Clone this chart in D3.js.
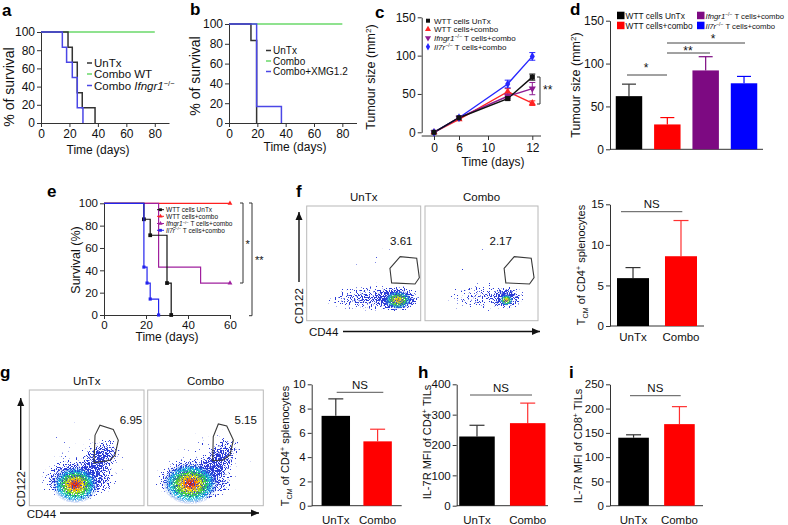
<!DOCTYPE html>
<html><head><meta charset="utf-8">
<script src="https://cdn.jsdelivr.net/npm/d3@7"></script>
<style>body{margin:0;background:#fff}</style>
</head><body>
<svg id="chart" width="788" height="525" xmlns="http://www.w3.org/2000/svg"></svg>
<script>
// ---------------- DATA ----------------
// a: survival (Kaplan-Meier steps)
const aUnTxT=[0,19,22,25.5,29,38], aUnTxS=[100,83.3,66.7,33.3,16.7,0];
const aWtT=[0,80], aWtS=[100,100];
const aKoT=[0,15,18,22,25.5,29.5], aKoS=[100,83.3,66.7,50,16.7,0];
// b
const bUnTxT=[0,15.5,19.5], bUnTxS=[100,83.3,0];
const bComboT=[0,80], bComboS=[100,100];
const bXmgT=[0,19.5,37], bXmgS=[100,16.7,0];
const survXTicks=[0,20,40,60,80], survYTicks=[0,20,40,60,80,100];
// c: tumour growth
const cDays=[0,6,10,12];
const cUnTx=[0,19,44,72], cUnTxErr=[0,1,2,4];
const cCombo=[0,17,53,38], cComboErr=[0,1,4,3];
const cIfngr=[0,19,47,57], cIfngrErr=[0,1,3,8];
const cIl7r=[0,19,63,99], cIl7rErr=[0,1,5,5];
const cYTicks=[0,50,100,150];
// d: tumour size bars
const dGroups=["WTT cells UnTx","WTT cells+combo","Ifngr1 T cells+combo","Il7r T cells+combo"];
const dValues=[62,29,92,77], dErr=[14,8,16,8];
// e: survival
const eUnTxT=[0,19,22,30,32], eUnTxS=[100,85.7,71.4,28.6,0];
const eComboT=[0,60], eComboS=[100,100];
const eIfngrT=[0,26,46,60], eIfngrS=[100,42.9,28.6,28.6];
const eIl7rT=[0,19,20.5,22,26], eIl7rS=[100,42.9,28.6,14.3,0];
const eXTicks=[0,20,40,60], eYTicks=[0,20,40,60,80,100];
// bar panels f, g, h, i
const barCats=["UnTx","Combo"];
const fVals=[5.9,8.6], fErr=[1.3,4.4], fTicks=[0,5,10,15];
const gVals=[7.4,5.3], gErr=[1.4,1.0], gTicks=[0,2,4,6,8,10];
const hVals=[228,272], hErr=[37,66], hTicks=[0,100,200,300,400];
const iVals=[140,168], iErr=[6,36], iTicks=[0,50,100,150,200,250];
// flow cytometry: density clusters [cx, cy, rx, ry, density, angle] in 0-1 plot units
const fUnTxHalo=[[0.55,0.19,0.5,0.14,0.75,0],[0.8,0.19,0.22,0.13,0.95,0],[0.6,0.45,0.45,0.3,0.2,0]];
const fUnTxCore=[[0.8,0.18,0.12,0.08]];
const fComboHalo=[[0.55,0.2,0.5,0.15,0.6,0],[0.72,0.2,0.15,0.1,0.85,0],[0.6,0.45,0.45,0.3,0.15,0]];
const fComboCore=[[0.72,0.18,0.06,0.05]];
const gUnTxHalo=[[0.42,0.22,0.38,0.2,0.95,0],[0.63,0.42,0.22,0.14,0.8,-45],[0.5,0.4,0.5,0.42,0.35,0]];
const gUnTxCore=[[0.4,0.18,0.2,0.16]];
const gComboHalo=[[0.4,0.22,0.42,0.21,0.95,0],[0.63,0.42,0.22,0.14,0.8,-45],[0.5,0.4,0.5,0.42,0.35,0]];
const gComboCore=[[0.37,0.19,0.24,0.18]];
const fUnTxGate=[[0.73,0.457],[0.82,0.558],[0.965,0.544],[0.988,0.375],[0.95,0.32],[0.745,0.33]];
const fComboGate=[[0.7,0.457],[0.79,0.558],[0.94,0.544],[0.965,0.375],[0.925,0.32],[0.715,0.33]];
const gUnTxGate=[[0.573,0.61],[0.616,0.695],[0.732,0.658],[0.776,0.566],[0.747,0.436],[0.703,0.393],[0.564,0.37]];
const gComboGate=[[0.567,0.596],[0.611,0.706],[0.684,0.689],[0.741,0.568],[0.712,0.438],[0.654,0.395],[0.562,0.389]];
const flowPct=["3.61","2.17","6.95","5.15"];

// ---------------- HELPERS ----------------
const F='"Liberation Sans", Arial, Helvetica, sans-serif';
const svg=d3.select('#chart');
const defs=svg.append('defs');

function rich(t,parts,size){
  let shift=0;
  parts.forEach(p=>{
    const ts=t.append('tspan').text(p.t);
    const target=p.sup?-size*0.34:(p.sub?size*0.25:0);
    if(target!==shift){ts.attr('dy',target-shift);shift=target;}
    if(p.sup||p.sub) ts.attr('font-size',size*0.65);
    if(p.it) ts.attr('font-style','italic');
  });
}
function txt(x,y,s,o={}){
  const size=o.size||11;
  const t=svg.append('text').attr('x',x).attr('y',y).attr('font-family',F).attr('font-size',size).attr('fill',o.fill||'#111');
  if(o.anchor) t.attr('text-anchor',o.anchor);
  if(o.weight) t.attr('font-weight',o.weight);
  if(o.rot) t.attr('transform',`rotate(-90,${x},${y})`);
  if(Array.isArray(s)) rich(t,s,size); else t.text(s);
  return t;
}
function styleAxis(a,fs){
  a.attr('font-family',F).attr('font-size',fs);
  a.select('.domain').attr('stroke','#333').attr('stroke-width',1);
  a.selectAll('.tick line').attr('stroke','#333');
  a.selectAll('.tick text').attr('fill','#111');
}
function panelLetter(l,x,y){txt(x,y,l,{size:17,weight:'bold',fill:'#000'});}

// ---------------- KM panels ----------------
function km(cfg){
  const x=d3.scaleLinear().domain(cfg.xd).range(cfg.xr);
  const y=d3.scaleLinear().domain([0,100]).range(cfg.yr);
  const xa=svg.append('g').attr('transform',`translate(0,${cfg.yr[0]})`)
    .call(d3.axisBottom(x).tickValues(cfg.xt).tickSize(4).tickSizeOuter(0).tickPadding(2));
  const ya=svg.append('g').attr('transform',`translate(${cfg.xr[0]},0)`)
    .call(d3.axisLeft(y).tickValues(cfg.yt).tickSize(4).tickSizeOuter(0).tickPadding(2));
  styleAxis(xa,cfg.fs);styleAxis(ya,cfg.fs);
  const line=d3.line().x(d=>x(d[0])).y(d=>y(d[1])).curve(d3.curveStepAfter);
  cfg.series.forEach(s=>{
    const pts=s.t.map((t,i)=>[t,s.s[i]]);
    svg.append('path').attr('d',line(pts)).attr('fill','none').attr('stroke',s.c).attr('stroke-width',s.w||1.5);
    if(s.m){
      const sym=d3.symbol().type(s.m).size(s.ms||14);
      (s.mi||pts.slice(1)).forEach(p=>{
        svg.append('path').attr('d',sym()).attr('transform',`translate(${x(p[0])},${y(p[1])})`).attr('fill',s.c);
      });
    }
  });
  return {x,y};
}

// a
panelLetter('a',2,16);
km({xd:[0,90],xr:[41,169],yr:[123,32],xt:survXTicks,yt:survYTicks,fs:12,
  series:[{t:aWtT,s:aWtS,c:'#6ad86a'},{t:aUnTxT,s:aUnTxS,c:'#333'},{t:aKoT,s:aKoS,c:'#4b47e6'}]});
txt(98,154,'Time (days)',{size:12,anchor:'middle'});
txt(14,87,'% of survival',{size:14,anchor:'middle',rot:true});
[['#333',[{t:'UnTx'}]],['#6ad86a',[{t:'Combo WT'}]],['#4b47e6',[{t:'Combo '},{t:'Ifngr1',it:true},{t:'−/−',sup:true}]]]
 .forEach((d,i)=>{const yy=[63,74,85.5][i];
   svg.append('line').attr('x1',87).attr('x2',92).attr('y1',yy).attr('y2',yy).attr('stroke',d[0]).attr('stroke-width',1.5);
   txt(94,yy+4,d[1],{size:11.5});});

// b
panelLetter('b',190,15);
km({xd:[0,90],xr:[229,356.5],yr:[123,24],xt:survXTicks,yt:survYTicks,fs:12,
  series:[{t:bComboT,s:bComboS,c:'#6ad86a'},{t:bUnTxT,s:bUnTxS,c:'#333'},{t:bXmgT,s:bXmgS,c:'#4b47e6'}]});
txt(295,151,'Time (days)',{size:12,anchor:'middle'});
txt(200,76,'% of survival',{size:14,anchor:'middle',rot:true});
[['#333','UnTx'],['#6ad86a','Combo'],['#4b47e6','Combo+XMG1.2']]
 .forEach((d,i)=>{const yy=[50.5,61,71.5][i];
   svg.append('line').attr('x1',266).attr('x2',271).attr('y1',yy).attr('y2',yy).attr('stroke',d[0]).attr('stroke-width',1.5);
   txt(273,yy+3.5,d[1],{size:10});});

// ---------------- c ----------------
panelLetter('c',375,18);
{
  const x=d3.scaleLinear().domain(cDays).range([434,459,507.7,532.3]);
  const xTick=d3.scaleLinear().domain(cDays).range([434,459,488,532.3]);
  const y=d3.scaleLinear().domain([0,150]).range([132.3,17.3]);
  const ya=svg.append('g').attr('transform','translate(421.7,0)').call(d3.axisLeft(y).tickValues(cYTicks).tickSize(4).tickSizeOuter(0).tickPadding(2));
  styleAxis(ya,12);
  svg.append('line').attr('x1',421.7).attr('x2',541).attr('y1',136).attr('y2',136).attr('stroke','#333');
  const xa=svg.append('g').attr('transform','translate(0,136)').call(d3.axisBottom(xTick).tickValues(cDays).tickSize(4).tickSizeOuter(0).tickPadding(3));
  styleAxis(xa,12); xa.select('.domain').remove();
  const ser=[
    {v:cUnTx,e:cUnTxErr,c:'#111',m:d3.symbolSquare,ms:26},
    {v:cCombo,e:cComboErr,c:'#ff2424',m:d3.symbolTriangle,ms:22},
    {v:cIfngr,e:cIfngrErr,c:'#8e1c92',m:d3.symbolTriangle,ms:22,flip:true},
    {v:cIl7r,e:cIl7rErr,c:'#2727ff',m:d3.symbolDiamond,ms:22}];
  const line=d3.line().x((d,i)=>x(cDays[i])).y(d=>y(d));
  [1,2,3,0].forEach(k=>{const s=ser[k];
    svg.append('path').attr('d',line(s.v)).attr('fill','none').attr('stroke',s.c).attr('stroke-width',1.4);});
  [1,2,3,0].forEach(k=>{const s=ser[k];
    s.v.forEach((v,i)=>{
      if(s.e[i]>1){const xx=x(cDays[i]);
        svg.append('line').attr('x1',xx).attr('x2',xx).attr('y1',y(v-s.e[i])).attr('y2',y(v+s.e[i])).attr('stroke',s.c);
        [v-s.e[i],v+s.e[i]].forEach(w=>svg.append('line').attr('x1',xx-3).attr('x2',xx+3).attr('y1',y(w)).attr('y2',y(w)).attr('stroke',s.c));}
      svg.append('path').attr('d',d3.symbol().type(s.m).size(s.ms)()).attr('fill',s.c)
        .attr('transform',`translate(${x(cDays[i])},${y(v)})${s.flip?' rotate(180)':''}`);
    });});
  svg.append('path').attr('d','M537,77H540V104H537').attr('fill','none').attr('stroke','#333');
  txt(543,94,'**',{size:12});
  txt(493,166,'Time (days)',{size:12,anchor:'middle'});
  txt(375,77,[{t:'Tumour size (mm'},{t:'2',sup:true},{t:')'}],{size:12.5,anchor:'middle',rot:true});
  const leg=[['WTT cells UnTx',0],['WTT cells+combo',1],[[{t:'Ifngr1',it:true},{t:'−/−',sup:true},{t:' T cells+combo'}],2],[[{t:'Il7r',it:true},{t:'−/−',sup:true},{t:' T cells+combo'}],3]];
  leg.forEach((d,i)=>{const yy=[20.7,29.3,38,46.7][i];const s=ser[d[1]];
    svg.append('path').attr('d',d3.symbol().type(s.m).size(16)()).attr('fill',s.c).attr('transform',`translate(428,${yy})${s.flip?' rotate(180)':''}`);
    txt(434,yy+2.8,d[0],{size:8});});
}

// ---------------- d ----------------
panelLetter('d',570,15);
{
  const cols=['#000000','#ff0000','#7d0a82','#0000ff'];
  const x=d3.scaleBand().domain(dGroups).range([610,763]).paddingInner(0.31).paddingOuter(0.15);
  const y=d3.scaleLinear().domain([0,150]).range([149.3,20.7]);
  const ya=svg.append('g').attr('transform','translate(610,0)').call(d3.axisLeft(y).tickValues(cYTicks).tickSize(4).tickSizeOuter(0).tickPadding(2));
  styleAxis(ya,12);
  svg.append('line').attr('x1',610).attr('x2',763).attr('y1',149.3).attr('y2',149.3).attr('stroke','#333');
  dGroups.forEach((g,i)=>{
    const cx=x(g)+x.bandwidth()/2;
    const ec=cols[i]==='#000000'?'#333':cols[i];
    svg.append('line').attr('x1',cx).attr('x2',cx).attr('y1',y(dValues[i])).attr('y2',y(dValues[i]+dErr[i])).attr('stroke',ec).attr('stroke-width',1.2);
    svg.append('line').attr('x1',cx-7).attr('x2',cx+7).attr('y1',y(dValues[i]+dErr[i])).attr('y2',y(dValues[i]+dErr[i])).attr('stroke',ec).attr('stroke-width',1.2);
    svg.append('rect').attr('x',x(g)).attr('width',x.bandwidth()).attr('y',y(dValues[i])).attr('height',y(0)-y(dValues[i])).attr('fill',cols[i]);
  });
  [[627,667,75,646,72,'*'],[667,710,53,688,55,'**'],[667,745,43,713,43,'*']].forEach(s=>{
    svg.append('line').attr('x1',s[0]).attr('x2',s[1]).attr('y1',s[2]).attr('y2',s[2]).attr('stroke','#444');
    txt(s[3],s[4],s[5],{size:12,anchor:'middle'});});
  txt(580,85,[{t:'Tumour size (mm'},{t:'2',sup:true},{t:')'}],{size:12.5,anchor:'middle',rot:true});
  const leg=[[617,15.5,0,'WTT cells UnTx',8.4],[617,25.5,1,'WTT cells+combo',8.4],[697,15.5,2,[{t:'Ifngr1',it:true},{t:'−/−',sup:true},{t:' T cells+combo'}],7.7],[697,25.5,3,[{t:'Il7r',it:true},{t:'−/−',sup:true},{t:' T cells+combo'}],7.7]];
  leg.forEach(l=>{svg.append('rect').attr('x',l[0]).attr('y',l[1]-3.8).attr('width',7.5).attr('height',7.5).attr('fill',cols[l[2]]);
    txt(l[0]+8.5,l[1]+3,l[3],{size:l[4]});});
}

// ---------------- e ----------------
panelLetter('e',47,197);
{
  const cE={un:'#111',co:'#ff2020',if:'#a0209e',il:'#2424ee'};
  km({xd:[0,60],xr:[104,230],yr:[315,203.3],xt:eXTicks,yt:eYTicks,fs:11.5,
   series:[
    {t:eComboT,s:eComboS,c:cE.co,w:1.2,m:d3.symbolTriangle,ms:10},
    {t:eIfngrT,s:eIfngrS,c:cE.if,w:1.2,m:d3.symbolTriangle,ms:10,mi:[[60,28.6]]},
    {t:eUnTxT,s:eUnTxS,c:cE.un,w:1.2,m:d3.symbolSquare,ms:14},
    {t:eIl7rT,s:eIl7rS,c:cE.il,w:1.2,m:d3.symbolSquare,ms:10}]});
  txt(167,341,'Time (days)',{size:12,anchor:'middle'});
  txt(80,260,'Survival (%)',{size:12.5,anchor:'middle',rot:true});
  svg.append('path').attr('d','M240,203H243V283H240').attr('fill','none').attr('stroke','#333');
  svg.append('path').attr('d','M249,203H252V315.7H249').attr('fill','none').attr('stroke','#333');
  txt(245.5,248,'*',{size:11});
  txt(255,264,'**',{size:11});
  const leg=[[cE.un,d3.symbolSquare,'WTT cells UnTx'],[cE.co,d3.symbolTriangle,'WTT cells+combo'],[cE.if,d3.symbolTriangle,[{t:'Ifngr1',it:true},{t:'−/−',sup:true},{t:' T cells+combo'}]],[cE.il,d3.symbolSquare,[{t:'Il7r',it:true},{t:'−/−',sup:true},{t:' T cells+combo'}]]];
  leg.forEach((l,i)=>{const yy=[209.7,216.3,223.5,230.3][i];
    svg.append('line').attr('x1',157).attr('x2',164).attr('y1',yy).attr('y2',yy).attr('stroke',l[0]);
    svg.append('path').attr('d',d3.symbol().type(l[1]).size(8)()).attr('fill',l[0]).attr('transform',`translate(160.5,${yy})`);
    txt(166,yy+2.3,l[2],{size:6.5});});
}

// ---------------- flow plots ----------------
{
  const hg=defs.append('radialGradient').attr('id','haloGrad');
  hg.append('stop').attr('offset','0%').attr('stop-color','#000').attr('stop-opacity',1);
  hg.append('stop').attr('offset','60%').attr('stop-color','#000').attr('stop-opacity',0.6);
  hg.append('stop').attr('offset','100%').attr('stop-color','#000').attr('stop-opacity',0);
  const cgG=defs.append('radialGradient').attr('id','coreG');
  [['0%','#d80000',1],['18%','#ff6600',1],['34%','#f4e000',1],['52%','#3ccf3c',1],['72%','#10c0e0',0.9],['100%','#2a40e0',0]]
    .forEach(s=>cgG.append('stop').attr('offset',s[0]).attr('stop-color',s[1]).attr('stop-opacity',s[2]));
  const cgF=defs.append('radialGradient').attr('id','coreF');
  [['0%','#f0a000',1],['25%','#d8e020',1],['50%','#40c840',1],['75%','#20b8d8',0.8],['100%','#2a40e0',0]]
    .forEach(s=>cgF.append('stop').attr('offset',s[0]).attr('stop-color',s[1]).attr('stop-opacity',s[2]));
  const f1=defs.append('filter').attr('id','spkBlue').attr('x','-10%').attr('y','-10%').attr('width','120%').attr('height','120%').attr('color-interpolation-filters','sRGB');
  f1.append('feTurbulence').attr('type','fractalNoise').attr('baseFrequency',0.85).attr('numOctaves',1).attr('seed',4).attr('result','n');
  f1.append('feColorMatrix').attr('in','n').attr('type','matrix').attr('values','0 0 0 0 0 0 0 0 0 0 0 0 0 0 0 1 0 0 0 0').attr('result','na');
  f1.append('feComposite').attr('in','SourceAlpha').attr('in2','na').attr('operator','arithmetic').attr('k1',0).attr('k2',0.51).attr('k3',1).attr('k4',-0.83).attr('result','s');
  f1.append('feComponentTransfer').attr('in','s').attr('result','m').append('feFuncA').attr('type','linear').attr('slope',25).attr('intercept',-0.2);
  f1.append('feFlood').attr('flood-color','#2b3bd6').attr('result','c');
  f1.append('feComposite').attr('in','c').attr('in2','m').attr('operator','in');
  const f2=defs.append('filter').attr('id','spkCol').attr('x','-10%').attr('y','-10%').attr('width','120%').attr('height','120%').attr('color-interpolation-filters','sRGB');
  f2.append('feTurbulence').attr('type','fractalNoise').attr('baseFrequency',0.9).attr('numOctaves',1).attr('seed',9).attr('result','n');
  f2.append('feColorMatrix').attr('in','n').attr('type','matrix').attr('values','0 0 0 0 0 0 0 0 0 0 0 0 0 0 0 1 0 0 0 0').attr('result','na');
  f2.append('feComponentTransfer').attr('in','na').attr('result','m').append('feFuncA').attr('type','linear').attr('slope',7).attr('intercept',-2.6);
  f2.append('feComposite').attr('in','SourceGraphic').attr('in2','m').attr('operator','in');
}
let clipN=0;
function flow(box,halo,core,coreId,gate,pct,title,pctPos){
  const [x0,y0,x1,y1]=box;
  const x=d3.scaleLinear().domain([0,1]).range([x0,x1]);
  const y=d3.scaleLinear().domain([0,1]).range([y1,y0]);
  const id='fc'+(++clipN);
  defs.append('clipPath').attr('id',id).append('rect').attr('x',x0).attr('y',y0).attr('width',x1-x0).attr('height',y1-y0);
  const g=svg.append('g').attr('clip-path',`url(#${id})`);
  const hgp=g.append('g').attr('filter','url(#spkBlue)');
  halo.forEach(h=>hgp.append('ellipse').attr('cx',x(h[0])).attr('cy',y(h[1])).attr('rx',x(h[2])-x(0)).attr('ry',y(0)-y(h[3]))
     .attr('fill','url(#haloGrad)').attr('fill-opacity',h[4]).attr('transform',`rotate(${h[5]},${x(h[0])},${y(h[1])})`));
  const cg=g.append('g').attr('filter','url(#spkCol)');
  core.forEach(c=>cg.append('ellipse').attr('cx',x(c[0])).attr('cy',y(c[1])).attr('rx',x(c[2])-x(0)).attr('ry',y(0)-y(c[3])).attr('fill',`url(#${coreId})`));
  g.append('path').attr('d',d3.line().x(d=>x(d[0])).y(d=>y(d[1])).curve(d3.curveLinearClosed)(gate)).attr('fill','none').attr('stroke','#3a3a3a').attr('stroke-width',1.1);
  svg.append('rect').attr('x',x0).attr('y',y0).attr('width',x1-x0).attr('height',y1-y0).attr('fill','none').attr('stroke','#b8b8b8');
  txt(x(pctPos[0]),y(pctPos[1]),pct,{size:11.5,anchor:'middle'});
  txt((x0+x1)/2,y0-5,title,{size:11.5,anchor:'middle'});
}
panelLetter('f',296,197);
flow([306.7,206,420.7,320.7],fUnTxHalo,fUnTxCore,'coreF',fUnTxGate,flowPct[0],'UnTx',[0.83,0.66]);
flow([425,206,538,320.7],fComboHalo,fComboCore,'coreF',fComboGate,flowPct[1],'Combo',[0.67,0.66]);
panelLetter('g',0,378);
flow([29.3,390,144,505.7],gUnTxHalo,gUnTxCore,'coreG',gUnTxGate,flowPct[2],'UnTx',[0.887,0.71]);
flow([147.7,390,263.3,505.7],gComboHalo,gComboCore,'coreG',gComboGate,flowPct[3],'Combo',[0.848,0.71]);
function arrow(x1,y1,x2,y2){
  svg.append('line').attr('x1',x1).attr('y1',y1).attr('x2',x2).attr('y2',y2).attr('stroke','#111').attr('stroke-width',1.4);
  const a=Math.atan2(y2-y1,x2-x1),L=8,W=3.5;
  const p=[[x2,y2],[x2-L*Math.cos(a)+W*Math.sin(a),y2-L*Math.sin(a)-W*Math.cos(a)],[x2-L*Math.cos(a)-W*Math.sin(a),y2-L*Math.sin(a)+W*Math.cos(a)]];
  svg.append('path').attr('d','M'+p.join('L')+'Z').attr('fill','#111');
}
arrow(299,282,299,212); txt(303,306,'CD122',{size:11.5,anchor:'middle',rot:true});
txt(309,335.5,'CD44',{size:11.5}); arrow(343,331.5,540,331.5);
arrow(20.7,470,20.7,398); txt(25,489,'CD122',{size:11.5,anchor:'middle',rot:true});
txt(26.7,517.5,'CD44',{size:11.5}); arrow(60,513,259,513);

// ---------------- bar panels ----------------
function bars(cfg){
  const x=d3.scaleBand().domain(barCats).range([cfg.x0,cfg.x1]).paddingInner(cfg.pi).paddingOuter(cfg.po);
  const y=d3.scaleLinear().domain([0,cfg.ticks[cfg.ticks.length-1]]).range([cfg.yb,cfg.yt]);
  const ya=svg.append('g').attr('transform',`translate(${cfg.x0},0)`).call(d3.axisLeft(y).tickValues(cfg.ticks).tickSize(4).tickSizeOuter(0).tickPadding(2));
  styleAxis(ya,11.5);
  svg.append('line').attr('x1',cfg.x0).attr('x2',cfg.x1).attr('y1',cfg.yb).attr('y2',cfg.yb).attr('stroke','#333');
  const cols=['#000','#ff0000'], ecol=['#333','#ff3030'];
  barCats.forEach((c,i)=>{
    const cx=x(c)+x.bandwidth()/2, top=y(cfg.v[i]+cfg.e[i]);
    svg.append('line').attr('x1',cx).attr('x2',cx).attr('y1',y(cfg.v[i])).attr('y2',top).attr('stroke',ecol[i]).attr('stroke-width',1.2);
    svg.append('line').attr('x1',cx-7.5).attr('x2',cx+7.5).attr('y1',top).attr('y2',top).attr('stroke',ecol[i]).attr('stroke-width',1.2);
    svg.append('rect').attr('x',x(c)).attr('width',x.bandwidth()).attr('y',y(cfg.v[i])).attr('height',cfg.yb-y(cfg.v[i])).attr('fill',cols[i]);
    txt(cx,cfg.lab,c,{size:11.5,anchor:'middle'});
  });
  svg.append('line').attr('x1',cfg.ns[0]).attr('x2',cfg.ns[1]).attr('y1',cfg.ns[2]).attr('y2',cfg.ns[2]).attr('stroke','#555');
  txt((cfg.ns[0]+cfg.ns[1])/2,cfg.ns[2]-3.5,'NS',{size:11.5,anchor:'middle'});
  txt(cfg.tx,cfg.ty,cfg.title,{size:11,anchor:'middle',rot:true});
}
const tcm=[{t:'T'},{t:'CM',sub:true},{t:' of CD4'},{t:'+',sup:true},{t:' splenocytes'}];
bars({x0:610,x1:704,yb:326,yt:204.3,ticks:fTicks,v:fVals,e:fErr,pi:0.333,po:0.146,lab:340.5,ns:[621,682.3,211.7],tx:585,ty:265,title:tcm});
bars({x0:311.7,x1:401.7,yb:505.7,yt:384.3,ticks:gTicks,v:gVals,e:gErr,pi:0.32,po:0.236,lab:524,ns:[336.7,383.3,392.3],tx:289,ty:446,title:tcm});
panelLetter('h',418,378);
bars({x0:456.7,x1:548,yb:505.7,yt:384.3,ticks:hTicks,v:hVals,e:hErr,pi:0.3,po:0.05,lab:524,ns:[470,532,395],tx:430.5,ty:442,title:[{t:'IL-7R MFI of CD4'},{t:'+',sup:true},{t:' TILs'}]});
panelLetter('i',569,378);
bars({x0:610,x1:703,yb:505.7,yt:384.3,ticks:iTicks,v:iVals,e:iErr,pi:0.333,po:0.18,lab:524,ns:[630,680.7,395.7],tx:582,ty:446,title:[{t:'IL-7R MFI of CD8'},{t:'+',sup:true},{t:' TILs'}]});
</script>
</body></html>
